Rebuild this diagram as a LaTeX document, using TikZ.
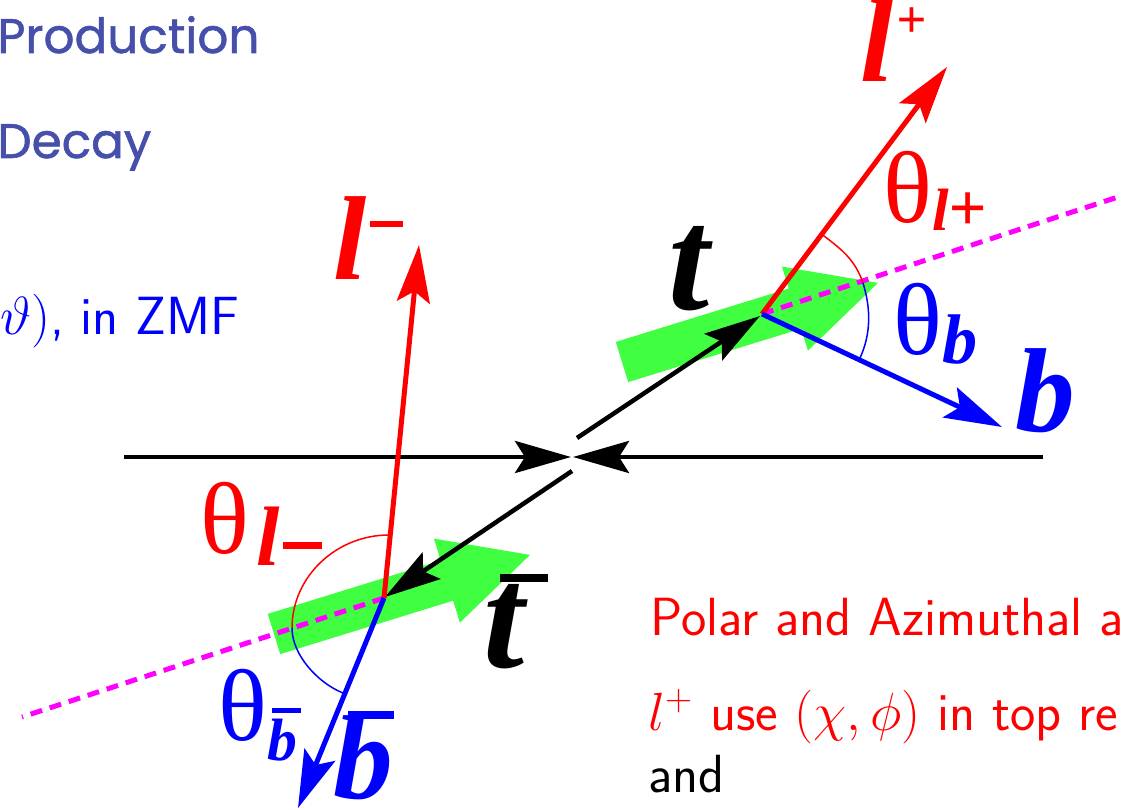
\RequirePackage{fix-cm}
\documentclass[tikz,border=0pt]{standalone}
\usepackage{amsmath}
\usepackage{fontspec}
\usepackage{tikz}
\usetikzlibrary{arrows.meta,positioning}
\newfontfamily\lblfont{Liberation Serif}
\newfontfamily\slidefont[FakeBold=1.2]{Poppins}
\newcommand{\fsz}[1]{\fontsize{#1}{#1}\selectfont}
\definecolor{slideblue}{RGB}{70,80,170}
\definecolor{fatgreen}{RGB}{64,255,64}
\definecolor{axismag}{RGB}{255,0,255}

\begin{document}
\begin{tikzpicture}[x=0.02cm, y=-0.02cm,
  mom/.style={line width=0.09cm, -{Stealth[length=1.12cm,width=0.64cm,inset=0.2cm]}},
  dec/.style={line width=0.1cm, -{Stealth[length=1.15cm,width=0.66cm,inset=0.22cm]}},
  axisline/.style={axismag, line width=0.1cm, dash pattern=on 0.24cm off 0.16cm},
  boost/.style={fill=fatgreen},
  anglearc/.style={line width=0.03cm},
  lbl/.style={inner sep=0pt, anchor=base west, font=\lblfont\bfseries\itshape},
  thlbl/.style={inner sep=0pt, anchor=base west, font=\lblfont},
  txt/.style={inner sep=0pt, anchor=base west, font=\sffamily\fsz{30.6}}]
  \useasboundingbox (0,0) rectangle (1121,810);

  % slide text
  \node[txt, font=\slidefont\fsz{27.6}, text=slideblue] (prod) at (-3,53) {Production};
  \node[txt, font=\slidefont\fsz{27.6}, text=slideblue] (decay) at (-3,158) {Decay};
  \node[txt, anchor=base east, text=blue] (zmf) at (240,335) {$\vartheta)$, in ZMF};
  \node[txt, text=red] (polar) at (650,635) {Polar and Azimuthal a};
  \node[txt, text=red] (chiphi) at (648,730) {$l^+$ use $(\chi,\phi)$ in top re};
  \node[txt] (andtxt) at (648,792) {and};

  % vertices
  \coordinate (top) at (762,314);
  \coordinate (tbot) at (384,598);
  \coordinate (ttip) at (760,316);
  \coordinate (tfrom) at (577,438);
  \coordinate (tbfrom) at (572,471);
  \coordinate (tbtip) at (385,597);
  \coordinate (beamL) at (124,457);
  \coordinate (beamR) at (1043,457);
  \coordinate (ipL) at (571,457);
  \coordinate (ipR) at (573,457);
  \coordinate (lptip) at (947,67);
  \coordinate (btip) at (1002,427);
  \coordinate (lmtip) at (419,245);
  \coordinate (bbtip) at (298,808);
  \coordinate (axR) at (1121,196);
  \coordinate (axL) at (22,717);

  % boost directions
  \fill[boost] (615.8,341.9) -- (788.7,288.5) -- (781.9,266.6) -- (878,282.9)
    -- (807.9,350.6) -- (801.1,328.7) -- (628.2,382.1) -- cycle;
  \fill[boost] (267.8,613.9) -- (440.7,560.5) -- (433.9,538.6) -- (530,554.9)
    -- (459.9,622.6) -- (453.1,600.7) -- (280.2,654.1) -- cycle;

  \draw[axisline] (top) -- (axR);
  \draw[axisline] (tbot) -- (axL);

  % beams and tops
  \draw[mom] (beamL) -- (ipL);
  \draw[mom] (beamR) -- (ipR);
  \draw[mom] (tfrom) -- (ttip);
  \draw[mom] (tbfrom) -- (tbtip);

  % decays
  \draw[dec, red] (top) -- (lptip);
  \draw[dec, blue] (top) -- (btip);
  \draw[dec, red] (tbot) -- (lmtip);
  \draw[dec, blue] (tbot) -- (bbtip);

  % angles
  \draw[anglearc, red] (820,233) .. controls (840,248) and (855,259) .. (863,283);
  \draw[anglearc, blue] (863,283) .. controls (871,309) and (871,334) .. (860,358);
  \draw[anglearc, red] (389,535) .. controls (336,535) and (292,577) .. (292,628);
  \draw[anglearc, blue] (292,628) .. controls (292,655) and (318,683) .. (343,693);

  % labels
  \node[lbl, text=red] (lplus) at (860,82) {\fsz{68}l\hspace{0.06cm}\raisebox{0.9cm}{\fsz{30}+}};
  \node[lbl, text=red] (lminus) at (333,280) {\fsz{68}l\hspace{0.06cm}\rule[1.06cm]{0.66cm}{0.12cm}};
  \node[lbl] (tlbl) at (668,310) {\fsz{84}t};
  \node[lbl] (tbarlbl) at (483,667) {\rlap{\hspace{0.34cm}\rule[1.7cm]{0.96cm}{0.16cm}}\fsz{84}t};
  \node[lbl, text=blue] (blbl) at (1015,431) {\fsz{68}b};
  \node[lbl, text=blue] (bbarlbl) at (333,798) {\rlap{\hspace{0.3cm}\rule[1.58cm]{0.92cm}{0.16cm}}\fsz{68}b};
  \node[thlbl, text=red] (thlp) at (883,223) {\fsz{58}θ\raisebox{-0.16cm}{\bfseries\itshape\fsz{34}l\fsz{38}+}};
  \node[thlbl, text=blue] (thb) at (893,355) {\fsz{58}θ\raisebox{-0.18cm}{\bfseries\itshape\fsz{40}b}};
  \node[thlbl, text=red] (thlm) at (200,553) {\fsz{58}θ\hspace{0.15cm}\raisebox{-0.24cm}{\bfseries\itshape\fsz{48}l\hspace{0.05cm}\rule[0.32cm]{0.78cm}{0.14cm}}};
  \node[thlbl, text=blue] (thbb) at (218,740) {\fsz{58}θ\raisebox{-0.4cm}{\bfseries\itshape\rlap{\hspace{0.1cm}\rule[0.94cm]{0.58cm}{0.1cm}}\fsz{34}b}};
\end{tikzpicture}
\end{document}
